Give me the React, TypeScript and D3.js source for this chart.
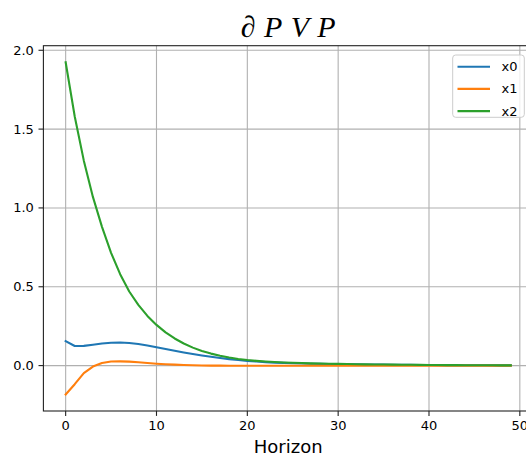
import React from "react";
import * as d3 from "d3";

const horizon: number[] = Array.from({ length: 50 }, (_, i) => i);

const x0: number[] = [
  0.155, 0.124, 0.125, 0.132, 0.14, 0.145, 0.146, 0.143, 0.137, 0.128,
  0.116, 0.105, 0.094, 0.083, 0.073, 0.064, 0.056, 0.048, 0.041, 0.035,
  0.03, 0.026, 0.022, 0.019, 0.017, 0.015, 0.013, 0.012, 0.011, 0.01,
  0.009, 0.008, 0.0075, 0.007, 0.0065, 0.006, 0.0055, 0.005, 0.0045, 0.004,
  0.0036, 0.0032, 0.0029, 0.0026, 0.0023, 0.0021, 0.0019, 0.0017, 0.0015, 0.0013,
];

const x1: number[] = [
  -0.183, -0.118, -0.048, -0.006, 0.017, 0.026, 0.027, 0.025, 0.021, 0.016,
  0.012, 0.009, 0.006, 0.004, 0.002, 0.001, 0.0, -0.0005, -0.0008, -0.001,
  -0.001, -0.001, -0.001, -0.0009, -0.0008, -0.0007, -0.0006, -0.0005, -0.0005, -0.0004,
  -0.0004, -0.0003, -0.0003, -0.0003, -0.0002, -0.0002, -0.0002, -0.0002, -0.0001, -0.0001,
  -0.0001, -0.0001, -0.0001, -0.0001, 0.0, 0.0, 0.0, 0.0, 0.0, 0.0,
];

const x2: number[] = [
  1.924, 1.58, 1.3, 1.07, 0.88, 0.715, 0.58, 0.47, 0.385, 0.315,
  0.258, 0.211, 0.172, 0.14, 0.114, 0.093, 0.076, 0.062, 0.051, 0.042,
  0.035, 0.03, 0.026, 0.023, 0.02, 0.018, 0.016, 0.014, 0.013, 0.012,
  0.011, 0.01, 0.009, 0.008, 0.007, 0.0065, 0.006, 0.0055, 0.005, 0.0045,
  0.004, 0.0036, 0.0032, 0.0029, 0.0026, 0.0023, 0.0021, 0.0019, 0.0017, 0.0015,
];

const seriesNames: string[] = ["x0", "x1", "x2"];
const seriesColors: string[] = ["#1f77b4", "#ff7f0e", "#2ca02c"];
const xTicks: number[] = [0, 10, 20, 30, 40, 50];
const yTicks: number[] = [0.0, 0.5, 1.0, 1.5, 2.0];
const title = "∂PVP";
const xLabel = "Horizon";

export default function App() {
  const W = 526;
  const H = 460;
  const left = 43.4;
  const right = 533;
  const top = 45.7;
  const bottom = 411;

  const xs = d3.scaleLinear().domain([-2.45, 51.45]).range([left, right]);
  const ys = d3.scaleLinear().domain([-0.288, 2.029]).range([bottom, top]);

  const series = [x0, x1, x2];
  const line = d3
    .line<number>()
    .x((_, i) => xs(horizon[i]))
    .y((d) => ys(d));

  const font = "'DejaVu Sans', sans-serif";

  return (
    <svg
      width={W}
      height={H}
      style={{ position: "absolute", left: 0, top: 0, display: "block" }}
    >
      <rect x={0} y={0} width={W} height={H} fill="#fff" />
      <defs>
        <clipPath id="plot">
          <rect x={left} y={top} width={right - left} height={bottom - top} />
        </clipPath>
      </defs>
      {/* grid */}
      <g stroke="#b0b0b0" strokeWidth={1.1}>
        {xTicks.map((t) => (
          <line key={"gx" + t} x1={xs(t)} x2={xs(t)} y1={top} y2={bottom} />
        ))}
        {yTicks.map((t) => (
          <line key={"gy" + t} x1={left} x2={right} y1={ys(t)} y2={ys(t)} />
        ))}
      </g>
      {/* series */}
      <g clipPath="url(#plot)">
        {series.map((s, k) => (
          <path
            key={seriesNames[k]}
            d={line(s) || ""}
            fill="none"
            stroke={seriesColors[k]}
            strokeWidth={2.1}
            strokeLinejoin="round"
            strokeLinecap="square"
          />
        ))}
      </g>
      {/* spines */}
      <rect
        x={left}
        y={top}
        width={right - left}
        height={bottom - top}
        fill="none"
        stroke="#222"
        strokeWidth={1.1}
      />
      {/* ticks */}
      <g fontFamily={font} fontSize={13} fill="#000">
        {xTicks.map((t) => (
          <g key={"xt" + t}>
            <line x1={xs(t)} x2={xs(t)} y1={bottom} y2={bottom + 4.9} stroke="#222" strokeWidth={1.1} />
            <text x={xs(t)} y={430} textAnchor="middle">
              {t}
            </text>
          </g>
        ))}
        {yTicks.map((t) => (
          <g key={"yt" + t}>
            <line x1={left - 4.9} x2={left} y1={ys(t)} y2={ys(t)} stroke="#222" strokeWidth={1.1} />
            <text x={left - 9.5} y={ys(t)} textAnchor="end" dominantBaseline="central">
              {t.toFixed(1)}
            </text>
          </g>
        ))}
      </g>
      {/* axis label */}
      <text
        x={(left + right) / 2}
        y={453}
        textAnchor="middle"
        fontFamily={font}
        fontSize={18}
        fill="#000"
      >
        {xLabel}
      </text>
      {/* title */}
      <text
        x={(left + right) / 2}
        y={36.5}
        textAnchor="middle"
        fontFamily="'Liberation Serif', 'DejaVu Serif', serif"
        fontStyle="italic"
        fontSize={30}
        textLength={95}
        lengthAdjust="spacing"
        fill="#000"
      >
        {title}
      </text>
      {/* legend */}
      <g>
        <rect
          x={452.7}
          y={55}
          width={71.6}
          height={62.3}
          rx={3}
          fill="#fff"
          fillOpacity={0.8}
          stroke="#cccccc"
          strokeWidth={1}
        />
        {seriesNames.map((n, k) => {
          const yy = 66.7 + k * 22.2;
          return (
            <g key={"lg" + n}>
              <line x1={457.5} x2={490} y1={yy} y2={yy} stroke={seriesColors[k]} strokeWidth={2.1} />
              <text
                x={501.5}
                y={yy}
                dominantBaseline="central"
                fontFamily={font}
                fontSize={13}
                fill="#000"
              >
                {n}
              </text>
            </g>
          );
        })}
      </g>
    </svg>
  );
}
